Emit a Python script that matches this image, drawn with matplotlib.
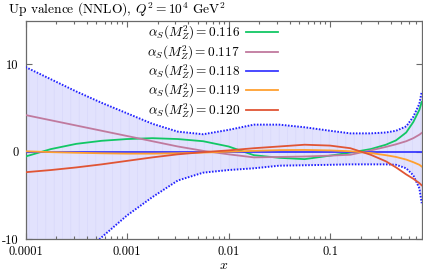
import matplotlib
matplotlib.use("Agg")
import matplotlib.pyplot as plt
from matplotlib.ticker import FixedLocator, LogLocator, NullFormatter

plt.rcParams['font.family'] = ['cmr10', 'DejaVu Serif']
plt.rcParams['mathtext.fontset'] = 'cm'
plt.rcParams['axes.unicode_minus'] = False
plt.rcParams['hatch.linewidth'] = 0.4

# x sample points (log-spaced)
x = [1e-4, 1.778e-4, 3.162e-4, 5.623e-4, 1e-3, 1.778e-3, 3.162e-3, 5.623e-3,
     1e-2, 1.778e-2, 3.162e-2, 5.623e-2, 0.1, 0.1585, 0.2512, 0.3548, 0.4467,
     0.5623, 0.6607, 0.7586, 0.8]

band_hi = [9.7, 8.3, 6.9, 5.6, 4.4, 3.2, 2.3, 2.0, 2.5, 3.1, 3.1, 2.8, 2.4,
           2.1, 2.1, 2.2, 2.4, 2.9, 4.0, 5.5, 6.9]
band_lo = [-19.0, -15.5, -12.5, -9.8, -7.3, -5.2, -3.3, -2.4, -2.1, -1.9, -1.6,
           -1.55, -1.5, -1.45, -1.45, -1.45, -1.5, -1.9, -2.7, -4.2, -5.9]

a116 = [-0.55, 0.3, 0.9, 1.25, 1.45, 1.55, 1.45, 1.2, 0.6, -0.4, -0.7, -0.85,
        -0.45, -0.1, 0.3, 0.8, 1.3, 2.2, 3.4, 4.8, 5.7]
a117 = [4.2, 3.6, 3.0, 2.4, 1.8, 1.2, 0.6, 0.1, -0.3, -0.65, -0.6, -0.55,
        -0.45, -0.35, 0.15, 0.55, 0.85, 1.2, 1.55, 1.95, 2.15]
a118 = [0.0] * len(x)
a119 = [0.05, -0.05, -0.12, -0.18, -0.22, -0.22, -0.18, -0.1, 0.0, 0.1, 0.18,
        0.2, 0.15, 0.05, -0.15, -0.4, -0.6, -0.9, -1.2, -1.5, -1.7]
a120 = [-2.35, -2.1, -1.8, -1.45, -1.05, -0.65, -0.3, -0.05, 0.15, 0.4, 0.6,
        0.8, 0.7, 0.4, -0.35, -1.1, -1.8, -2.6, -3.1, -3.6, -3.85]

series = [
    ('0.116', a116, '#12c765'),
    ('0.117', a117, '#c07a9e'),
    ('0.118', a118, '#3a3aff'),
    ('0.119', a119, '#ffa030'),
    ('0.120', a120, '#e05535'),
]

xticks = [1e-4, 1e-3, 1e-2, 1e-1]
xticklabels = ['0.0001', '0.001', '0.01', '0.1']
yticks = [-10, 0, 10]
yticklabels = ['-10', '0', '10']

fig = plt.figure(figsize=(4.23, 2.73), dpi=100)
ax = fig.add_axes([0.0603, 0.1245, 0.9367, 0.7995])

ax.fill_between(x, band_lo, band_hi, facecolor='#e2e2fd', edgecolor='#d6d6fa',
                hatch='||', linewidth=0, zorder=1)
ax.plot(x, band_hi, color='#2020ff', lw=1.4, ls=(0, (0.8, 0.8)), zorder=3)
ax.plot(x, band_lo, color='#2020ff', lw=1.4, ls=(0, (0.8, 0.8)), zorder=3)

for lab, ys, col in series:
    ax.plot(x, ys, color=col, lw=1.3, zorder=4,
            label=r'$\alpha_S(M_Z^2) = %s$' % lab)

ax.set_xscale('log')
ax.set_xlim(1e-4, 0.8)
ax.set_ylim(-10, 15)

ax.xaxis.set_major_locator(FixedLocator(xticks))
ax.set_xticklabels(xticklabels)
ax.xaxis.set_minor_locator(LogLocator(base=10, subs=range(2, 10)))
ax.xaxis.set_minor_formatter(NullFormatter())
ax.set_yticks(yticks)
ax.set_yticklabels(yticklabels)

ax.tick_params(which='both', direction='in', top=True, right=True,
               colors='#6a6a6a', labelcolor='black', labelsize=9, width=0.8)
ax.tick_params(which='major', length=4)
ax.tick_params(which='minor', length=2.5)
ax.tick_params(axis='x', pad=5)
ax.tick_params(axis='y', pad=5)
for s in ax.spines.values():
    s.set_color('#6a6a6a')
    s.set_linewidth(0.9)

ax.set_xlabel(r'$x$', fontsize=10, labelpad=1)
fig.text(0.019, 0.963, r'Up valence (NNLO), $Q^2 = 10^4$ GeV$^2$',
         fontsize=9.7, va='center', ha='left')

ax.legend(loc='upper right', bbox_to_anchor=(0.637, 0.985), frameon=False,
          markerfirst=False, fontsize=9.6, handlelength=2.4, handletextpad=0.45,
          labelspacing=0.09, borderpad=0, borderaxespad=0)

fig.savefig('out.png', dpi=100)
